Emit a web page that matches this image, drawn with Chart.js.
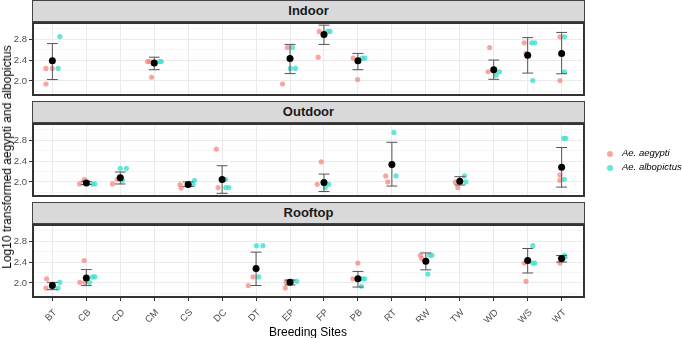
<!DOCTYPE html>
<html>
<head>
<meta charset="utf-8">
<script src="https://cdn.jsdelivr.net/npm/chart.js@4"></script>
<style>
  body { margin: 0; background: #fff; font-family: "Liberation Sans", Arial, sans-serif; }
  #wrap { position: relative; width: 682px; height: 338px; overflow: hidden; }
  canvas { position: absolute; left: 0; }
  .strip { position: absolute; left: 32px; width: 553px; height: 22px; box-sizing: border-box;
    background: #d9d9d9; border: 1px solid #444; font-weight: bold; font-size: 13px; color: #1a1a1a;
    text-align: center; line-height: 20px; }
  .frame { position: absolute; left: 32px; width: 553px; height: 74px; box-sizing: border-box;
    border: 2px solid #333; pointer-events: none; }
  #ytitle { position: absolute; left: 7px; top: 157px; transform: translate(-50%, -50%) rotate(-90deg);
    white-space: nowrap; font-size: 12px; color: #000; }
  #xtitle { position: absolute; left: 308px; top: 332px; transform: translate(-50%, -50%);
    white-space: nowrap; font-size: 12px; color: #000; }
  .leg { position: absolute; left: 607px; font-size: 9.5px; font-style: italic; color: #000; white-space: nowrap; }
  .leg span { display: inline-block; width: 6px; height: 6px; border-radius: 50%; margin-right: 9px; vertical-align: -1px; }
</style>
</head>
<body>
<div id="wrap">
  <div class="strip" style="top:0px">Indoor</div>
  <div class="strip" style="top:101px">Outdoor</div>
  <div class="strip" style="top:202px">Rooftop</div>
  <canvas id="indoor"></canvas>
  <canvas id="outdoor"></canvas>
  <canvas id="rooftop"></canvas>
  <div class="frame" style="top:22px"></div>
  <div class="frame" style="top:123px"></div>
  <div class="frame" style="top:224px"></div>
  <div id="ytitle">Log10 transformed aegypti and albopictus</div>
  <div id="xtitle">Breeding Sites</div>
  <div class="leg" style="top:147px"><span style="background:rgba(248,118,109,0.65)"></span>Ae. aegypti</div>
  <div class="leg" style="top:161px"><span style="background:rgba(64,224,208,0.8)"></span>Ae. albopictus</div>
</div>
<script>
// breeding site codes on the x axis
var sites = ['BT','CB','CD','CM','CS','DC','DT','EP','FP','PB','RT','RW','TW','WD','WS','WT'];
var yTicks = [1.8, 2.0, 2.2, 2.4, 2.6, 2.8, 3.0];
var yLabels = [2.0, 2.4, 2.8];

// jittered observations: [site, jitter, log10 value]
var indoorAegypti = [
  ['BT',-0.19,1.94],['BT',-0.19,2.24],['BT',0.0,2.24],
  ['CM',-0.2,2.37],['CM',-0.08,2.07],['CM',-0.13,2.37],
  ['EP',-0.22,1.94],['EP',-0.08,2.64],
  ['FP',-0.17,2.455],['FP',-0.14,2.95],
  ['PB',-0.14,2.435],['PB',-0.01,2.025],
  ['WD',-0.12,2.64],['WD',-0.17,2.175],
  ['WS',-0.1,2.73],['WS',-0.05,2.53],
  ['WT',-0.05,2.845],['WT',-0.05,2.006]
];
var indoorAlbopictus = [
  ['BT',0.22,2.85],['BT',0.17,2.24],
  ['CM',0.15,2.37],['CM',0.21,2.37],
  ['EP',0.07,2.64],['EP',0.01,2.24],['EP',0.16,2.24],
  ['FP',0.11,2.95],['FP',0.18,2.95],
  ['PB',0.13,2.435],['PB',0.2,2.435],
  ['WD',0.07,2.11],['WD',0.17,2.175],
  ['WS',0.12,2.73],['WS',0.21,2.73],['WS',0.15,2.006],
  ['WT',0.08,2.845],['WT',0.08,2.175]
];
// mean with error bar: [site, mean, low, high]
var indoorMean = [
  ['BT',2.385,2.026,2.716],['CM',2.345,2.215,2.455],['EP',2.43,2.14,2.70],['FP',2.89,2.70,3.07],
  ['PB',2.385,2.215,2.527],['WD',2.215,2.03,2.40],['WS',2.49,2.15,2.83],['WT',2.527,2.137,2.93]
];

var outdoorAegypti = [
  ['CB',-0.2,1.96],['CB',-0.06,2.046],
  ['CD',-0.23,1.96],['CD',-0.09,2.05],
  ['CS',-0.24,1.95],['CS',-0.21,1.885],
  ['DC',-0.17,2.63],['DC',-0.12,1.89],
  ['FP',-0.08,2.385],['FP',-0.2,1.955],
  ['RT',-0.18,2.115],['RT',-0.12,2.0],
  ['TW',-0.13,2.0],['TW',-0.06,1.89],
  ['WT',-0.05,2.13],['WT',-0.05,2.03]
];
var outdoorAlbopictus = [
  ['CB',0.18,1.96],['CB',0.25,1.96],
  ['CD',0.0,2.26],['CD',0.18,2.26],['CD',0.06,2.03],
  ['CS',0.15,1.95],['CS',0.19,2.03],
  ['DC',0.1,2.05],['DC',0.11,1.89],['DC',0.2,1.89],
  ['FP',0.04,1.89],['FP',0.14,1.955],
  ['RT',0.06,2.95],['RT',0.12,2.115],
  ['TW',0.14,2.115],['TW',0.18,2.0],
  ['WT',0.06,2.835],['WT',0.12,2.835],['WT',0.08,2.05]
];
var outdoorMean = [
  ['CB',1.98,1.95,2.01],['CD',2.077,1.96,2.19],['CS',1.95,1.91,2.0],['DC',2.046,1.78,2.31],
  ['FP',1.99,1.815,2.15],['RT',2.335,1.92,2.76],['TW',2.013,1.94,2.10],['WT',2.28,1.9,2.66]
];

var rooftopAegypti = [
  ['BT',-0.17,2.077],['BT',-0.19,1.90],
  ['CB',-0.06,2.43],['CB',-0.19,2.01],['CB',-0.04,2.01],
  ['DT',-0.23,1.95],['DT',-0.09,2.115],
  ['EP',-0.14,1.90],['EP',-0.11,2.02],
  ['PB',0.0,2.38],['PB',-0.15,2.077],
  ['RW',-0.16,2.53],['RW',-0.12,2.466],
  ['WS',-0.1,2.38],['WS',-0.05,2.03],
  ['WT',-0.05,2.38],['WT',-0.04,2.466]
];
var rooftopAlbopictus = [
  ['BT',0.17,1.90],['BT',0.22,2.01],
  ['CB',0.09,2.01],['CB',0.18,2.115],['CB',0.25,2.115],
  ['DT',0.08,2.115],['DT',0.01,2.715],['DT',0.2,2.715],
  ['EP',0.06,2.03],['EP',0.2,2.03],
  ['PB',0.13,2.077],['PB',0.2,2.077],['PB',0.1,1.935],
  ['RW',0.11,2.53],['RW',0.18,2.53],['RW',0.06,2.17],
  ['WS',0.15,2.715],['WS',0.15,2.38],['WS',0.21,2.38],
  ['WT',0.08,2.53],['WT',0.1,2.49]
];
var rooftopMean = [
  ['BT',1.948,1.87,2.01],['CB',2.096,1.948,2.255],['DT',2.275,1.95,2.59],['EP',2.01,1.96,2.055],
  ['PB',2.077,1.92,2.22],['RW',2.415,2.25,2.575],['WS',2.43,2.19,2.66],['WT',2.466,2.40,2.525]
];

var red = 'rgba(248,118,109,0.65)';
var cyan = 'rgba(64,224,208,0.8)';
var gridCol = '#ebebeb';

function pts(list) {
  return list.map(function(d) { return {x: sites.indexOf(d[0]) + d[1], y: d[2]}; });
}

// error bars drawn just before the mean points
var errorBars = {
  id: 'errorBars',
  beforeDatasetDraw: function(chart, args) {
    if (args.index !== 0) return;
    var xs = chart.scales.x, ys = chart.scales.y, ctx = chart.ctx;
    var rows = chart.data.datasets[0].bars;
    ctx.save();
    ctx.strokeStyle = '#555';
    ctx.lineWidth = 1;
    rows.forEach(function(r) {
      var i = sites.indexOf(r[0]);
      var xc = xs.getPixelForValue(i), xl = xs.getPixelForValue(i - 0.16), xr = xs.getPixelForValue(i + 0.16);
      var yl = ys.getPixelForValue(r[2]), yh = ys.getPixelForValue(r[3]);
      ctx.beginPath();
      ctx.moveTo(xc, yl); ctx.lineTo(xc, yh);
      ctx.moveTo(xl, yl); ctx.lineTo(xr, yl);
      ctx.moveTo(xl, yh); ctx.lineTo(xr, yh);
      ctx.stroke();
    });
    ctx.restore();
  }
};

function makePanel(id, top, aeg, albo, means, showX) {
  var cv = document.getElementById(id);
  var h = showX ? 112 : 90;
  cv.style.top = (top - 8) + 'px';
  cv.width = 586; cv.height = h;
  cv.style.width = '586px'; cv.style.height = h + 'px';

  return new Chart(cv, {
    type: 'scatter',
    plugins: [errorBars],
    data: {
      datasets: [
        {
          label: 'mean',
          data: means.map(function(d) { return {x: sites.indexOf(d[0]), y: d[1]}; }),
          bars: means,
          backgroundColor: '#000',
          borderColor: '#000',
          pointRadius: 3.5,
          borderWidth: 0
        },
        { label: 'Ae. albopictus', data: pts(albo), backgroundColor: cyan, borderWidth: 0, pointRadius: 2.6 },
        { label: 'Ae. aegypti', data: pts(aeg), backgroundColor: red, borderWidth: 0, pointRadius: 2.6 }
      ]
    },
    options: {
      responsive: false,
      animation: false,
      events: [],
      layout: { padding: { top: 8, bottom: showX ? 6 : 8, left: 0, right: 1 } },
      plugins: { legend: { display: false }, tooltip: { enabled: false } },
      scales: {
        x: {
          type: 'linear',
          min: -0.6,
          max: 15.6,
          afterBuildTicks: function(s) { s.ticks = sites.map(function(v, i) { return {value: i}; }); },
          afterFit: function(s) { s.height = showX ? 24 : 0; },
          border: { display: false },
          grid: { color: gridCol, lineWidth: 1, drawTicks: showX, tickLength: 3, tickColor: '#333' },
          ticks: {
            display: showX,
            autoSkip: false,
            minRotation: 45,
            maxRotation: 45,
            padding: 6,
            labelOffset: 3,
            color: '#4d4d4d',
            font: { size: 9.5, family: 'Liberation Sans, Arial, sans-serif' },
            callback: function(v) { return sites[v]; }
          }
        },
        y: {
          min: 1.71,
          max: 3.13,
          afterBuildTicks: function(s) { s.ticks = yTicks.map(function(v) { return {value: v}; }); },
          afterFit: function(s) { s.width = 32; },
          border: { display: false },
          grid: {
            color: gridCol,
            lineWidth: function(c) { return yLabels.indexOf(c.tick.value) >= 0 ? 1 : 0.5; },
            tickLength: 3,
            tickColor: function(c) { return yLabels.indexOf(c.tick.value) >= 0 ? '#333' : 'rgba(0,0,0,0)'; }
          },
          ticks: {
            autoSkip: false,
            padding: 2,
            color: '#4d4d4d',
            font: { size: 9.5, family: 'Liberation Sans, Arial, sans-serif' },
            callback: function(v) { return yLabels.indexOf(v) >= 0 ? v.toFixed(1) : ''; }
          }
        }
      }
    }
  });
}

makePanel('indoor', 22, indoorAegypti, indoorAlbopictus, indoorMean, false);
makePanel('outdoor', 123, outdoorAegypti, outdoorAlbopictus, outdoorMean, false);
makePanel('rooftop', 224, rooftopAegypti, rooftopAlbopictus, rooftopMean, true);
</script>
</body>
</html>
